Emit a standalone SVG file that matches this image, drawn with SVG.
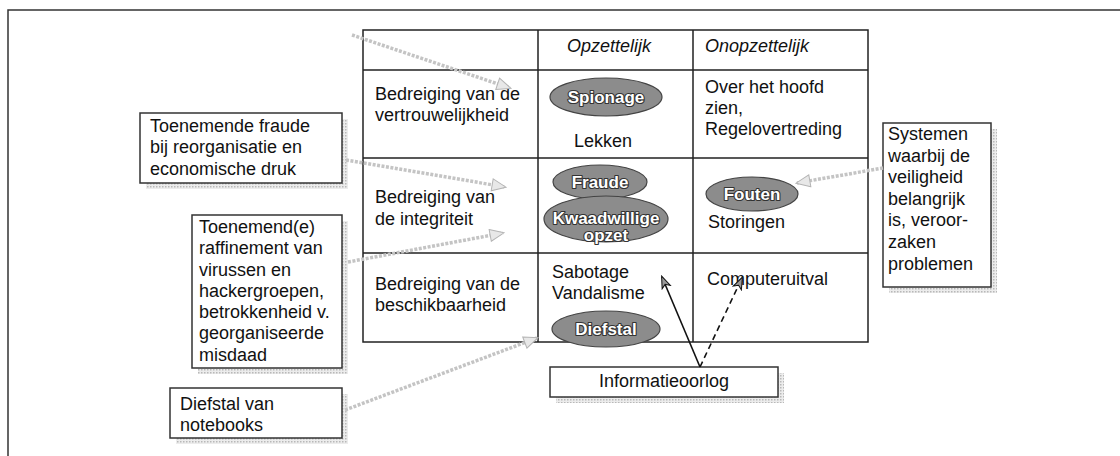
<svg xmlns="http://www.w3.org/2000/svg" width="1120" height="456" viewBox="0 0 1120 456">
<defs>
<style>
text{font-family:"Liberation Sans",Arial,Helvetica,sans-serif;font-size:18px;fill:#111}
.hdr{font-style:italic}
.grid{fill:none;stroke:#222;stroke-width:1.5}
.box{fill:#fff;stroke:#333;stroke-width:1.5}
.shadow{fill:url(#dots)}
.ell{fill:#8c8c8c;stroke:#444;stroke-width:1.2}
.et{font-size:17px;font-weight:bold;fill:#fff;stroke:#333;stroke-width:2.2;paint-order:stroke;stroke-linejoin:round;text-anchor:middle}
.garrow{fill:none;stroke:#c4c4c4;stroke-width:3.5;stroke-dasharray:3 1.5;marker-end:url(#gh)}
.barrow{fill:none;stroke:#111;stroke-width:1.6;marker-end:url(#bh)}
</style>
<pattern id="dots" width="3" height="3" patternUnits="userSpaceOnUse">
<rect width="3" height="3" fill="#ececec"/>
<rect width="1.5" height="1.5" fill="#b8b8b8"/>
</pattern>
<marker id="gh" markerWidth="16" markerHeight="14" refX="14" refY="7" orient="auto" markerUnits="userSpaceOnUse">
<path d="M1,1 L15,7 L1,13 Z" fill="#e8e8e8" stroke="#b4b4b4" stroke-width="1"/>
</marker>
<marker id="bh" markerWidth="14" markerHeight="12" refX="12" refY="6" orient="auto" markerUnits="userSpaceOnUse">
<path d="M1,1.5 L13,6 L1,10.5 L4,6 Z" fill="#999" stroke="#111" stroke-width="1"/>
</marker>
</defs>
<rect width="1120" height="456" fill="#fff"/>
<path d="M8,456 L8,10 L1120,10" fill="none" stroke="#333" stroke-width="1.5"/>

<g id="table">
<rect class="grid" x="363" y="30" width="505" height="312"/>
<path class="grid" d="M538,30 V342 M693,30 V342 M363,70 H868 M363,158 H868 M363,253 H868"/>
<text class="hdr" x="567" y="52">Opzettelijk</text>
<text class="hdr" x="705" y="52">Onopzettelijk</text>
<text x="375" y="100">Bedreiging van de</text>
<text x="375" y="121">vertrouwelijkheid</text>
<text x="375" y="203">Bedreiging van</text>
<text x="375" y="225">de integriteit</text>
<text x="375" y="290">Bedreiging van de</text>
<text x="375" y="311">beschikbaarheid</text>
<text x="705" y="93">Over het hoofd</text>
<text x="705" y="114">zien,</text>
<text x="705" y="135">Regelovertreding</text>
<text x="574" y="147">Lekken</text>
<text x="708" y="228">Storingen</text>
<text x="552" y="278">Sabotage</text>
<text x="552" y="299">Vandalisme</text>
<text x="707" y="285">Computeruitval</text>
</g>

<g id="spionage"><ellipse class="ell" cx="606" cy="97" rx="56" ry="19"/><text class="et" x="606" y="103">Spionage</text></g>
<g id="fraude"><ellipse class="ell" cx="600" cy="182" rx="47" ry="17"/><text class="et" x="600" y="188">Fraude</text></g>
<g id="kwaadwillige"><ellipse class="ell" cx="606" cy="219" rx="62" ry="23"/><text class="et" x="606" y="224">Kwaadwillige</text><text class="et" x="606" y="241">opzet</text></g>
<g id="fouten"><ellipse class="ell" cx="752" cy="194" rx="46" ry="17"/><text class="et" x="752" y="200">Fouten</text></g>
<g id="diefstal"><ellipse class="ell" cx="606" cy="329" rx="54" ry="18"/><text class="et" x="606" y="335">Diefstal</text></g>

<g id="box-fraude">
<rect class="shadow" x="146" y="119" width="202" height="70"/>
<rect class="box" x="140" y="113" width="202" height="70"/>
<text x="150" y="132">Toenemende fraude</text>
<text x="150" y="153">bij reorganisatie en</text>
<text x="150" y="175">economische druk</text>
</g>
<g id="box-raffinement">
<rect class="shadow" x="198" y="221" width="150" height="153"/>
<rect class="box" x="192" y="215" width="150" height="153"/>
<text x="199" y="233">Toenemend(e)</text>
<text x="199" y="254">raffinement van</text>
<text x="199" y="276">virussen en</text>
<text x="199" y="297">hackergroepen,</text>
<text x="199" y="318">betrokkenheid v.</text>
<text x="199" y="339">georganiseerde</text>
<text x="199" y="361">misdaad</text>
</g>
<g id="box-notebooks">
<rect class="shadow" x="176" y="394" width="172" height="50"/>
<rect class="box" x="170" y="388" width="172" height="50"/>
<text x="180" y="410">Diefstal van</text>
<text x="180" y="431">notebooks</text>
</g>
<g id="box-systemen">
<rect class="shadow" x="889" y="129" width="108" height="164"/>
<rect class="box" x="883" y="123" width="108" height="164"/>
<text x="888" y="140">Systemen</text>
<text x="888" y="162">waarbij de</text>
<text x="888" y="183">veiligheid</text>
<text x="888" y="205">belangrijk</text>
<text x="888" y="226">is, veroor-</text>
<text x="888" y="248">zaken</text>
<text x="888" y="270">problemen</text>
</g>
<g id="box-informatieoorlog">
<rect class="shadow" x="556" y="373" width="228" height="30"/>
<rect class="box" x="550" y="367" width="228" height="30"/>
<text x="664" y="387" text-anchor="middle">Informatieoorlog</text>
</g>

<g id="connectors">
<path class="garrow" d="M352,35 L510,88"/>
<path class="garrow" d="M346,160 L505,187"/>
<path class="garrow" d="M348,262 L503,233"/>
<path class="garrow" d="M345,410 L537,338"/>
<path class="garrow" d="M883,168 L797,183"/>
<path class="barrow" d="M700,367 L662,277"/>
<path class="barrow" d="M700,367 L742,278" stroke-dasharray="6 4"/>
</g>
</svg>
